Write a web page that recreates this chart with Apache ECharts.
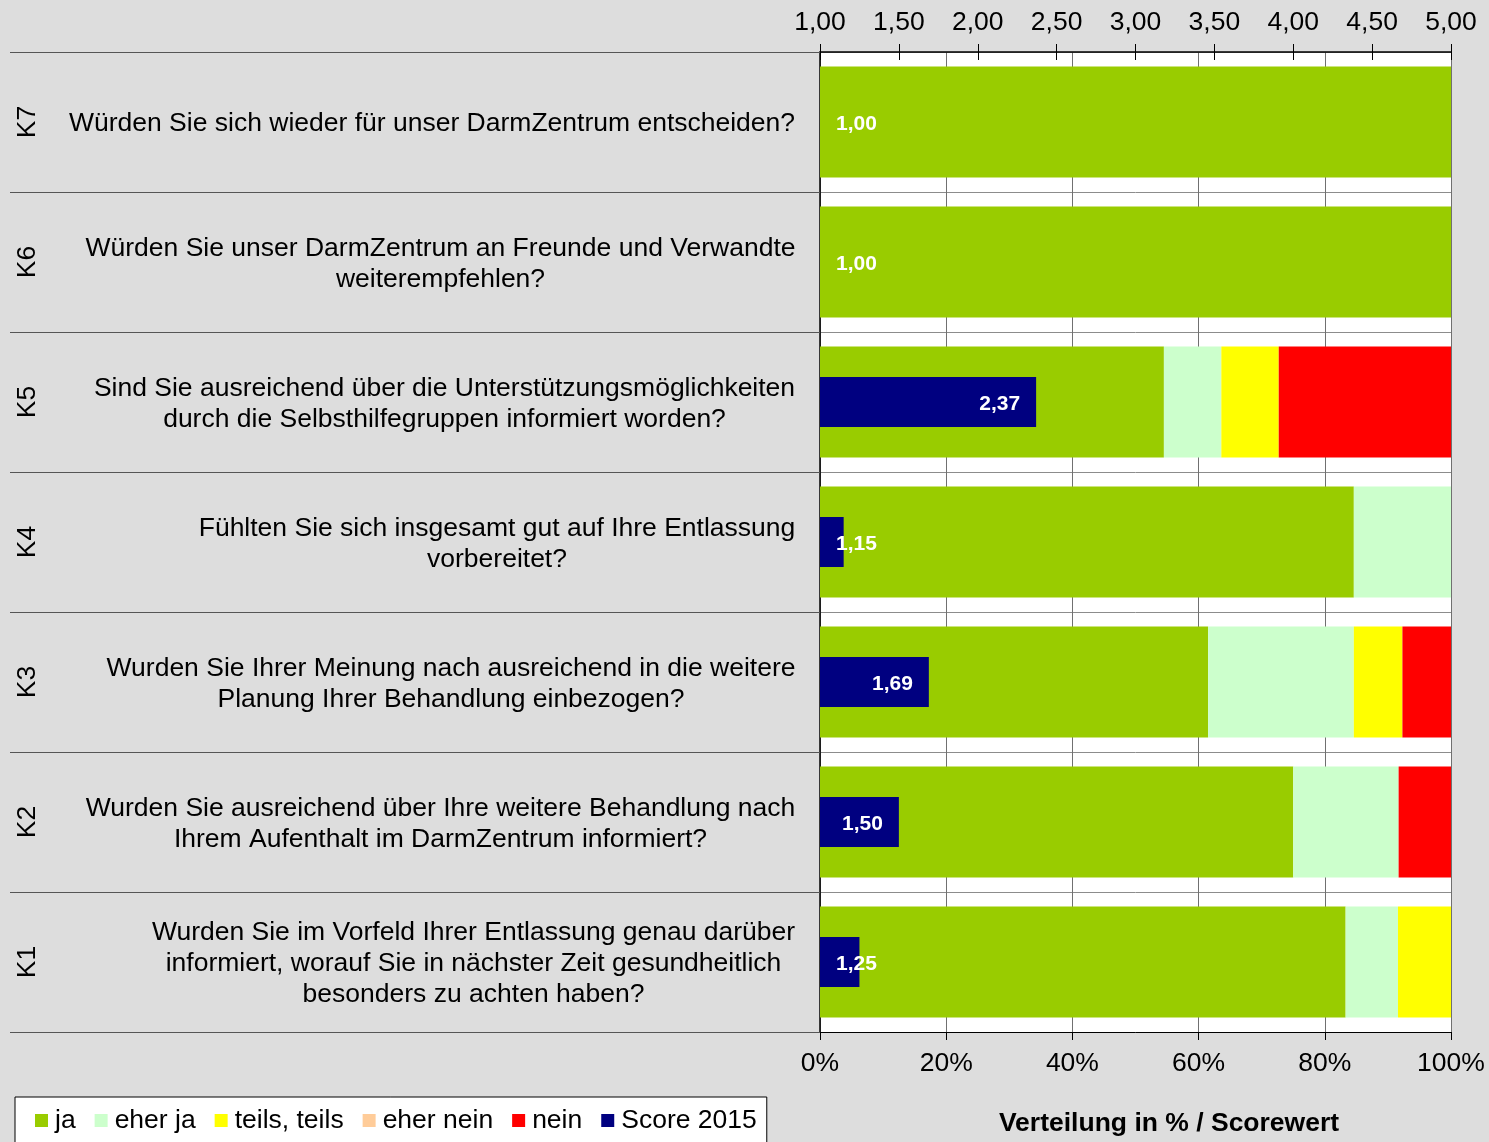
<!DOCTYPE html>
<html>
<head>
<meta charset="utf-8">
<script src="https://cdn.jsdelivr.net/npm/echarts@6/dist/echarts.min.js"></script>
<style>
html,body{margin:0;padding:0;background:#dddddd;}
#c{width:1489px;height:1142px;}
</style>
</head>
<body>
<div id="c"></div>
<script>
const categories = ['K1', 'K2', 'K3', 'K4', 'K5', 'K6', 'K7'];
const questions = [
  'Wurden Sie im Vorfeld Ihrer Entlassung genau darüber\ninformiert, worauf Sie in nächster Zeit gesundheitlich\nbesonders zu achten haben?',
  'Wurden Sie ausreichend über Ihre weitere Behandlung nach\nIhrem Aufenthalt im DarmZentrum informiert?',
  'Wurden Sie Ihrer Meinung nach ausreichend in die weitere\nPlanung Ihrer Behandlung einbezogen?',
  'Fühlten Sie sich insgesamt gut auf Ihre Entlassung\nvorbereitet?',
  'Sind Sie ausreichend über die Unterstützungsmöglichkeiten\ndurch die Selbsthilfegruppen informiert worden?',
  'Würden Sie unser DarmZentrum an Freunde und Verwandte\nweiterempfehlen?',
  'Würden Sie sich wieder für unser DarmZentrum entscheiden?'
];
const seriesNames = ['ja', 'eher ja', 'teils, teils', 'eher nein', 'nein', 'Score 2015'];
const ja       = [83.3, 75.0, 61.5, 84.6, 54.5, 100, 100];
const eherJa   = [8.3, 16.7, 23.1, 15.4, 9.1, 0, 0];
const teils    = [8.4, 0, 7.7, 0, 9.1, 0, 0];
const eherNein = [0, 0, 0, 0, 0, 0, 0];
const nein     = [0, 8.3, 7.7, 0, 27.3, 0, 0];
const score    = [1.25, 1.50, 1.69, 1.15, 2.37, 1.00, 1.00];
const pctTicks = [0, 20, 40, 60, 80, 100];
const scoreTicks = [1, 1.5, 2, 2.5, 3, 3.5, 4, 4.5, 5];

const FONT = '"Liberation Sans", Arial, sans-serif';
const FS = 26.5;
const colors = ['#99cc00', '#ccffcc', '#ffff00', '#ffcc99', '#ff0000', '#000080'];

// measure widths so each multi-line label is centred within a right-aligned block
const cv = document.createElement('canvas').getContext('2d');
cv.font = FS + 'px "Liberation Sans"';
const rich = {};
questions.forEach((q, i) => {
  const w = Math.max(...q.split('\n').map(l => cv.measureText(l).width));
  rich['q' + i] = { width: Math.ceil(w) + 1, align: 'center', fontSize: FS, lineHeight: 31, fontFamily: FONT, color: '#000' };
});

const chart = echarts.init(document.getElementById('c'), null, { renderer: 'canvas' });
const fmt = v => v.toFixed(2).replace('.', ',');

function pctSeries(name, data, idx) {
  return {
    name: name, type: 'bar', stack: 'pct', xAxisIndex: 0, yAxisIndex: 0,
    data: data, barWidth: 111, itemStyle: { color: colors[idx] }, z: 2,
    emphasis: { disabled: true }
  };
}

chart.setOption({
  backgroundColor: '#dddddd',
  animation: false,
  textStyle: { fontFamily: FONT },
  grid: { left: 820, right: 38, top: 52, bottom: 110, show: true, backgroundColor: '#ffffff', borderWidth: 0 },
  legend: {
    left: 15, top: 1097, orient: 'horizontal',
    data: seriesNames,
    itemWidth: 13, itemHeight: 13, itemGap: 19,
    icon: 'rect',
    padding: [10, 10, 20, 20],
    backgroundColor: '#ffffff', borderColor: '#000000', borderWidth: 1,
    textStyle: { fontSize: FS, color: '#000', fontFamily: FONT, padding: [0, 0, 0, 2] },
    selectedMode: false
  },
  xAxis: [
    {
      type: 'value', position: 'bottom', min: 0, max: 100, interval: 20,
      axisLine: { show: true, lineStyle: { color: '#000', width: 1 } },
      axisTick: { show: true, length: 8, lineStyle: { color: '#000' } },
      axisLabel: { fontSize: FS, color: '#000', margin: 18, formatter: v => v + '%', fontFamily: FONT },
      splitLine: { show: true, lineStyle: { color: '#707070', width: 1 } }
    },
    {
      type: 'value', position: 'top', min: 1, max: 5, interval: 0.5,
      axisLine: { show: true, onZero: false, lineStyle: { color: '#000', width: 1.5 } },
      axisTick: { show: true, length: 8, lineStyle: { color: '#000' } },
      axisLabel: { fontSize: FS, color: '#000', margin: 16, formatter: v => fmt(v), fontFamily: FONT },
      splitLine: { show: false }
    },
    {
      type: 'value', position: 'top', min: 1, max: 5, interval: 0.5,
      axisLine: { show: false },
      axisTick: { show: true, inside: true, length: 8, lineStyle: { color: '#000' } },
      axisLabel: { show: false },
      splitLine: { show: false }
    }
  ],
  yAxis: [
    {
      type: 'category', data: categories, position: 'left',
      axisLine: { show: true, onZero: false, lineStyle: { color: '#000', width: 1.5 } },
      axisTick: { show: true, length: 810, lineStyle: { color: '#555555', width: 1 } },
      axisLabel: {
        margin: 24, align: 'right', padding: [4, 0, 0, 0],
        formatter: (v, i) => questions[i].split('\n').map(l => '{q' + i + '|' + l + '}').join('\n'),
        rich: rich
      },
      splitLine: { show: true, lineStyle: { color: '#8c8c8c', width: 1 } }
    },
    {
      type: 'category', data: categories, position: 'left', offset: 779,
      axisLine: { show: false }, axisTick: { show: false },
      axisLabel: { rotate: 90, margin: 0, fontSize: FS, color: '#000', fontFamily: FONT }
    }
  ],
  series: [
    pctSeries(seriesNames[0], ja, 0),
    pctSeries(seriesNames[1], eherJa, 1),
    pctSeries(seriesNames[2], teils, 2),
    pctSeries(seriesNames[3], eherNein, 3),
    pctSeries(seriesNames[4], nein, 4),
    {
      name: seriesNames[5], type: 'bar', xAxisIndex: 1, yAxisIndex: 1,
      barWidth: 50, z: 5, clip: true,
      itemStyle: { color: colors[5] },
      emphasis: { disabled: true },
      label: {
        show: true, color: '#ffffff', fontWeight: 'bold', fontSize: 21, fontFamily: FONT,
        distance: 16, offset: [0, 2], formatter: p => fmt(p.value)
      },
      data: score.map(v => ({ value: v, label: { position: (v - 1) < 0.45 ? 'insideLeft' : 'insideRight' } }))
    }
  ],
  graphic: [
    {
      type: 'text', x: 1169, y: 1124, z: 10,
      style: { text: 'Verteilung in % / Scorewert', font: 'bold ' + FS + 'px ' + FONT, fill: '#000', align: 'center', verticalAlign: 'middle' }
    }
  ]
});
</script>
</body>
</html>
